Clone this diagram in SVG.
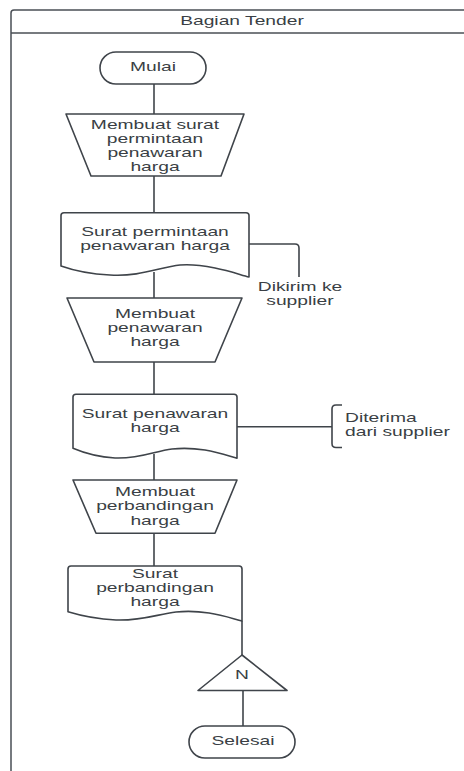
<svg xmlns="http://www.w3.org/2000/svg" width="464" height="771" viewBox="0 0 464 771">
<style>
.s{fill:#fff;stroke:#3f444a;stroke-width:1.6;stroke-linejoin:round}
.c{fill:none;stroke:#3f444a;stroke-width:1.6;stroke-linejoin:round}
.f{fill:#fff;stroke:#4a4f55;stroke-width:1.5}
text{font-family:"Liberation Sans",Arial,sans-serif;font-size:12.5px;fill:#3a3f45}
.m{text-anchor:middle}
</style>
<rect width="464" height="771" fill="#fff"/>
<g id="lane">
<path class="f" d="M11,780 V13 Q11,10 14,10 H470"/>
<line class="f" x1="11" y1="33" x2="470" y2="33"/>
<text class="m" transform="translate(242 0) scale(1.54 1)" y="25">Bagian Tender</text>
</g>
<g id="connectors">
<line class="c" x1="154" y1="84" x2="154" y2="114"/>
<line class="c" x1="154" y1="176" x2="154" y2="213"/>
<line class="c" x1="154" y1="272" x2="154" y2="298"/>
<path class="c" d="M249,244 H295 Q299,244 299,248 V277"/>
<line class="c" x1="154" y1="362" x2="154" y2="394"/>
<line class="c" x1="154" y1="454" x2="154" y2="480"/>
<line class="c" x1="237" y1="426.7" x2="332" y2="426.7"/>
<path class="c" d="M342,405 H336 Q332,405 332,409 V443.5 Q332,447.5 336,447.5 H342"/>
<line class="c" x1="154" y1="533" x2="154" y2="566"/>
<line class="c" x1="242" y1="621" x2="242" y2="655"/>
<line class="c" x1="243" y1="690" x2="243" y2="726"/>
</g>
<g id="mulai">
<rect class="s" x="100" y="52" width="106" height="32" rx="16"/>
<text class="m" transform="translate(153 0) scale(1.54 1)" y="71.5">Mulai</text>
</g>
<g id="membuat-surat">
<path class="s" d="M66,114 H244 L221,176 H91 Z"/>
<text class="m" transform="translate(155 0) scale(1.54 1)"><tspan x="0" y="129">Membuat surat</tspan><tspan x="0" y="143">permintaan</tspan><tspan x="0" y="157">penawaran</tspan><tspan x="0" y="171">harga</tspan></text>
</g>
<g id="surat-permintaan">
<path class="s" d="M61,266 V215.5 Q61,212.7 64,212.7 H246 Q249,212.7 249,215.5 V277 C241,275 230,271 215,268 C200,265 190,264 180,265 C160,267 140,277 110,275 C90,274 75,271 61,266 Z"/>
<text class="m" transform="translate(155 0) scale(1.54 1)"><tspan x="0" y="236">Surat permintaan</tspan><tspan x="0" y="250">penawaran harga</tspan></text>
</g>
<g id="dikirim">
<text class="m" transform="translate(300 0) scale(1.54 1)"><tspan x="0" y="291">Dikirim ke</tspan><tspan x="0" y="305">supplier</tspan></text>
</g>
<g id="membuat-penawaran">
<path class="s" d="M67,298 H242 L215,362 H94 Z"/>
<text class="m" transform="translate(155 0) scale(1.54 1)"><tspan x="0" y="318.5">Membuat</tspan><tspan x="0" y="332.5">penawaran</tspan><tspan x="0" y="346.5">harga</tspan></text>
</g>
<g id="surat-penawaran">
<path class="s" d="M73,448.3 V397 Q73,394.3 76,394.3 H234 Q237,394.3 237,397 V458.3 C229,456 218,452 205,450 C192,448 182,448 172,449 C155,451 140,459 115,458 C98,457 84,453 73,448.3 Z"/>
<text class="m" transform="translate(155 0) scale(1.54 1)"><tspan x="0" y="418.3">Surat penawaran</tspan><tspan x="0" y="432.3">harga</tspan></text>
</g>
<g id="diterima">
<text transform="translate(345 0) scale(1.54 1)"><tspan x="0" y="421.7">Diterima</tspan><tspan x="0" y="436.2">dari supplier</tspan></text>
</g>
<g id="membuat-perbandingan">
<path class="s" d="M73,480 H237 L215,533.3 H96 Z"/>
<text class="m" transform="translate(155 0) scale(1.54 1)"><tspan x="0" y="496">Membuat</tspan><tspan x="0" y="510.5">perbandingan</tspan><tspan x="0" y="525">harga</tspan></text>
</g>
<g id="surat-perbandingan">
<path class="s" d="M68,611.7 V569 Q68,566 71,566 H239 Q242,566 242,569 V621 C234,619 223,615 209,613 C196,611 186,611 176,612 C158,614 142,621 116,620 C98,619 82,616 68,611.7 Z"/>
<text class="m" transform="translate(155 0) scale(1.54 1)"><tspan x="0" y="578.5">Surat</tspan><tspan x="0" y="592.5">perbandingan</tspan><tspan x="0" y="606.5">harga</tspan></text>
</g>
<g id="n">
<path class="s" d="M242,655 L287,690.5 H198 Z"/>
<text class="m" transform="translate(242 0) scale(1.54 1)" y="679.3">N</text>
</g>
<g id="selesai">
<rect class="s" x="189" y="726" width="106" height="32" rx="16"/>
<text class="m" transform="translate(243 0) scale(1.54 1)" y="745.5">Selesai</text>
</g>
</svg>
